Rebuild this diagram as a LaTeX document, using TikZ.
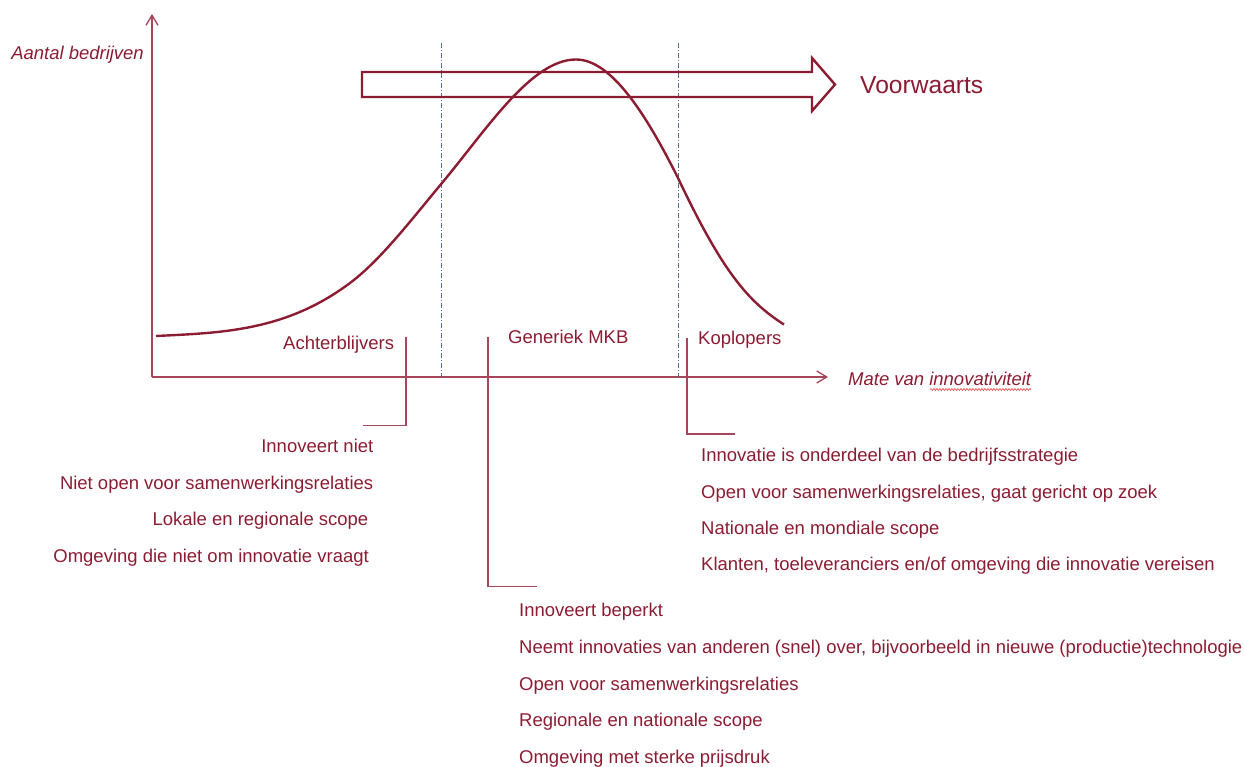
\documentclass[tikz,border=0pt]{standalone}
\usepackage{fontspec}
\setmainfont{Liberation Sans}
\usetikzlibrary{arrows.meta,decorations.pathmorphing}
\definecolor{mainred}{RGB}{140,28,50}
\definecolor{axisred}{RGB}{165,70,90}
\definecolor{dashblue}{RGB}{80,110,145}
\definecolor{squiggle}{RGB}{230,60,60}
\tikzset{
  txt/.style={text=mainred,inner sep=0pt,font=\fontsize{18.48}{22}\selectfont},
  ltxt/.style={txt,anchor=base east},
  rtxt/.style={txt,anchor=base west},
  axisline/.style={draw=axisred,line width=1.3pt,-{Straight Barb[length=10pt,width=12pt,line width=1.3pt]}},
  guide/.style={draw=dashblue,line width=0.9pt,dash pattern=on 5pt off 2pt on 1pt off 2pt},
  bracket/.style={draw=axisred,line width=1.3pt},
  curve/.style={draw=mainred,line width=2.4pt},
  bigarrow/.style={draw=mainred,line width=2.4pt,line join=miter}
}
\begin{document}
\begin{tikzpicture}[x=1pt,y=-1pt]
\useasboundingbox (0,0) rectangle (1244,767);
% axes
\coordinate (o) at (152,377);
\coordinate (ytop) at (152,14);
\coordinate (xend) at (828,377);
\draw[axisline] (o) -- (ytop);
\draw[axisline] (o) -- (xend);
\node[txt,font=\fontsize{18.48}{22}\selectfont\itshape,anchor=base east] (ylab) at (144,60) {Aantal bedrijven};
\node[rtxt,font=\fontsize{18.48}{22}\selectfont\itshape] (xlab) at (848,385) {Mate van innovativiteit};
\draw[squiggle,line width=0.6pt,decorate,decoration={snake,amplitude=0.9pt,segment length=3pt}] (930,389.5) -- (1031,389.5);
% dashed guides
\coordinate (g1t) at (441.5,43);
\coordinate (g1b) at (441.5,377);
\coordinate (g2t) at (678,43);
\coordinate (g2b) at (678,377);
\draw[guide] (g1t) -- (g1b);
\draw[guide] (g2t) -- (g2b);
% big arrow
\draw[bigarrow] (362,72) -- (812,72) -- (812,58) -- (835,84.5) -- (812,111) -- (812,97) -- (362,97) -- cycle;
\node[txt,anchor=base west,font=\fontsize{24.6}{28}\selectfont] (fw) at (860,94) {Voorwaarts};
% curve
\coordinate (cA) at (156,336);
\coordinate (cM) at (350,283);
\coordinate (cB) at (442,183);
\coordinate (cC) at (576,59.5);
\coordinate (cD) at (678,178);
\coordinate (cE) at (784,324.5);
\draw[curve] (cA) .. controls (220.7,332.8) and (285.3,331.5) .. (cM)
  .. controls (380.7,260) and (411.3,219.8) .. (cB)
  .. controls (486.7,129.4) and (531.3,59.5) .. (cC)
  .. controls (610,59.5) and (644,110) .. (cD)
  .. controls (723,273) and (748.7,302) .. (cE);
% category labels
\node[rtxt] (achter) at (283,349) {Achterblijvers};
\node[rtxt] (gen) at (508,343) {Generiek MKB};
\node[rtxt] (kop) at (698,344) {Koplopers};
% brackets
\coordinate (b1a) at (406,337);
\coordinate (b1b) at (406,425.5);
\coordinate (b1c) at (363,425.5);
\draw[bracket] (b1a) -- (b1b) -- (b1c);
\coordinate (b2a) at (488,337);
\coordinate (b2b) at (488,586.5);
\coordinate (b2c) at (537,586.5);
\draw[bracket] (b2a) -- (b2b) -- (b2c);
\coordinate (b3a) at (687,338);
\coordinate (b3b) at (687,434);
\coordinate (b3c) at (735,434);
\draw[bracket] (b3a) -- (b3b) -- (b3c);
% left list
\node[ltxt] (l1) at (373.5,452.5) {Innoveert niet};
\node[ltxt] (l2) at (373.5,489) {Niet open voor samenwerkingsrelaties};
\node[ltxt] (l3) at (368.5,525.5) {Lokale en regionale scope};
\node[ltxt] (l4) at (369,562) {Omgeving die niet om innovatie vraagt};
% middle list
\node[rtxt] (m1) at (519,616) {Innoveert beperkt};
\node[rtxt] (m2) at (519,653) {Neemt innovaties van anderen (snel) over, bijvoorbeeld in nieuwe (productie)technologie};
\node[rtxt] (m3) at (519,690) {Open voor samenwerkingsrelaties};
\node[rtxt] (m4) at (519,726.5) {Regionale en nationale scope};
\node[rtxt] (m5) at (519,763.5) {Omgeving met sterke prijsdruk};
% right list
\node[rtxt] (r1) at (701,461) {Innovatie is onderdeel van de bedrijfsstrategie};
\node[rtxt] (r2) at (701,498) {Open voor samenwerkingsrelaties, gaat gericht op zoek};
\node[rtxt] (r3) at (701,534) {Nationale en mondiale scope};
\node[rtxt] (r4) at (701,570.5) {Klanten, toeleveranciers en/of omgeving die innovatie vereisen};
\end{tikzpicture}
\end{document}
